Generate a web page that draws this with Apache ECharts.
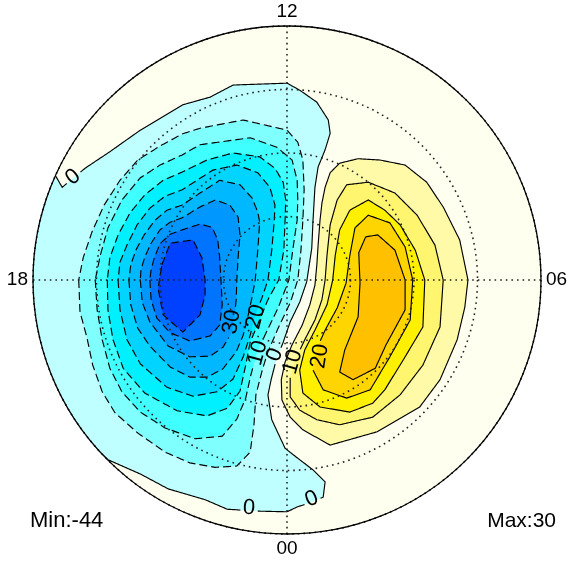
<!DOCTYPE html>
<html><head><meta charset="utf-8">
<script src="https://cdn.jsdelivr.net/npm/echarts@6/dist/echarts.min.js"></script>
<style>html,body{margin:0;padding:0;background:#fff}#c{width:569px;height:561px}</style>
</head><body><div id="c"></div>
<script>
// ---- data (x, y in degrees of colatitude from the pole; +y toward 12 MLT, +x toward 06 MLT) ----
const mltTicks = [0, 6, 12, 18];
const mltLabels = ['00', '06', '12', '18'];
const colatRings = [10, 20, 30];
const outerColat = 40;
const minValue = -44;
const maxValue = 30;

const contourZero = [[-36.5,16.5],[-35.4,14.6],[-31.8,17.6],[-27.9,20.2],[-23.1,23.6],[-16.4,27.6],[-12.1,28.8],[-8.5,30.7],[0,31.0],[2.0,29.9],[4.7,28.0],[6.5,25.2],[6.8,23.1],[6.0,20.5],[4.9,17.8],[4.4,14.6],[4.1,9.4],[3.9,5.0],[3.1,-0.3],[2.0,-3.5],[0.5,-6.6],[-0.6,-9.8],[-1.7,-12.6],[-2.5,-15.7],[-3.0,-18.1],[-2.4,-22.0],[-0.3,-26.5],[1.6,-28.0],[4.1,-29.9],[6.0,-31.8],[5.7,-34.2],[3.6,-35.1],[1.7,-35.7],[0,-36.5],[-4.6,-36.4],[-9.4,-36.1],[-12.9,-34.6],[-18.7,-32.9],[-23.0,-30.6],[-28.2,-28.3],[-31.5,-25.2],[-35.7,-28.3],[-43.6,-3.1],[-40.5,18.1]];
const contourNeg5 = [[-32.8,0],[-32.6,-5.0],[-31.5,-9.1],[-30.6,-13.4],[-29.1,-17.6],[-27.1,-20.9],[-23.5,-24.1],[-19.2,-27.1],[-15.3,-28.8],[-11.3,-29.5],[-7.9,-29.3],[-5.8,-27.1],[-5.2,-22.8],[-4.9,-18.1],[-3.9,-14.2],[-3.0,-11.3],[-1.4,-7.6],[0.5,-3.6],[1.7,0],[2.2,4.7],[2.5,9.4],[2.7,14.2],[2.5,18.9],[1.7,21.7],[0,23.6],[-6.9,25.2],[-13.7,23.9],[-16.5,23.0],[-20.0,21.1],[-23.5,18.9],[-26.3,15.7],[-28.8,11.8],[-30.7,7.6],[-32.1,3.5]];
const contourNeg10 = [[-30.2,0],[-29.9,-4.7],[-29.1,-9.4],[-27.9,-13.9],[-26.0,-17.6],[-23.1,-20.8],[-19.2,-23.3],[-14.5,-25.0],[-10.2,-24.6],[-7.9,-21.9],[-6.5,-18.6],[-5.7,-15.0],[-4.7,-11.3],[-3.1,-7.9],[-1.4,-4.4],[0.3,0],[0.9,4.7],[1.6,9.4],[1.7,12.6],[1.6,15.7],[0.8,18.9],[-1.6,20.9],[-5.8,22.4],[-13.7,21.3],[-16.5,19.7],[-20.0,18.1],[-23.1,16.1],[-26.0,12.6],[-28.2,8.2],[-29.4,3.9]];
const contourNeg15 = [[-28.3,0],[-28.2,-4.7],[-27.4,-9.4],[-25.8,-13.9],[-22.4,-17.8],[-17.3,-20.6],[-12.6,-21.4],[-9.4,-20.2],[-7.4,-17.5],[-6.5,-13.4],[-5.8,-9.8],[-4.4,-6.5],[-3.0,-3.1],[-1.3,0],[-0.5,4.7],[-0.3,9.4],[-0.2,12.6],[-0.6,15.4],[-1.9,17.6],[-4.3,19.4],[-8.5,20.0],[-12.6,18.9],[-16.5,17.0],[-19.5,15.7],[-22.4,13.4],[-24.7,10.6],[-26.6,7.1],[-27.9,3.5]];
const contourNeg20 = [[-26.6,0],[-26.3,-4.7],[-25.2,-9.4],[-23.1,-13.2],[-18.9,-16.9],[-14.8,-18.3],[-11.0,-17.6],[-8.5,-15.6],[-6.9,-12.1],[-5.8,-8.7],[-5.0,-5.5],[-3.9,-2.7],[-3.0,0],[-2.4,4.7],[-2.0,9.4],[-1.9,11.8],[-2.7,14.6],[-4.6,16.9],[-7.9,18.1],[-11.7,17.3],[-16.5,14.2],[-19.2,13.2],[-21.6,11.3],[-23.6,8.7],[-25.2,5.5],[-26.3,2.8]];
const contourNeg25 = [[-24.9,0],[-24.6,-3.9],[-23.5,-7.6],[-21.6,-10.4],[-18.4,-13.7],[-15.3,-15.3],[-12.6,-15.3],[-10.1,-14.0],[-8.0,-11.3],[-6.9,-8.7],[-6.1,-5.5],[-5.5,-2.7],[-5.0,0],[-4.6,4.7],[-4.3,9.1],[-4.6,10.7],[-5.5,12.9],[-7.4,15.0],[-10.6,15.7],[-13.7,13.7],[-16.5,11.8],[-18.9,11.0],[-20.8,9.4],[-22.5,7.1],[-23.8,4.7],[-24.6,2.4]];
const contourNeg30 = [[-23.1,0],[-22.8,-3.5],[-21.6,-6.6],[-18.7,-10.4],[-15.3,-12.1],[-12.1,-12.0],[-10.1,-10.6],[-8.7,-8.3],[-8.3,-6.0],[-8.0,-3.1],[-7.9,0],[-7.7,3.5],[-7.4,7.1],[-7.7,9.9],[-9.0,11.8],[-11.3,12.6],[-13.7,11.5],[-16.5,9.8],[-18.4,9.1],[-20.0,7.9],[-21.4,5.8],[-22.4,3.6],[-23.0,1.6]];
const contourNeg35 = [[-21.6,0],[-21.4,-3.1],[-20.5,-6.0],[-18.4,-8.3],[-15.3,-9.6],[-12.1,-8.8],[-10.6,-7.1],[-10.2,-3.9],[-10.4,0],[-10.6,3.5],[-10.9,6.3],[-11.8,8.3],[-13.7,8.8],[-16.5,7.9],[-18.4,7.2],[-20.0,5.7],[-20.9,3.5],[-21.4,1.6]];
const contourNeg40 = [[-19.7,2.4],[-18.4,5.8],[-14.8,6.3],[-13.4,3.5],[-12.9,0],[-12.9,-2.4],[-13.7,-5.5],[-16.4,-8.2],[-19.5,-5.5],[-20.3,-1.3]];
const contourPos5 = [[6.8,16.9],[8.3,18.4],[11.2,19.1],[14.6,18.9],[18.6,18.1],[22.0,15.4],[24.6,11.5],[27.2,6.3],[28.5,0],[28.0,-4.3],[26.8,-9.4],[24.1,-15.7],[20.9,-20.0],[14.2,-23.9],[6.8,-26.0],[2.5,-23.6],[0.5,-21.6],[-0.8,-18.9],[-0.9,-15.7],[-0.3,-12.9],[0.8,-10.2],[2.4,-7.1],[3.6,-3.9],[4.4,-0.8],[4.7,2.4],[4.9,5.5],[5.2,9.4],[5.5,12.1],[6.0,14.6]];
const contourPos10 = [[7.9,12.6],[9.4,15.0],[12.8,15.4],[17.0,13.7],[20.5,10.2],[23.3,5.5],[24.6,0],[24.1,-7.4],[21.4,-13.4],[17.8,-18.1],[13.5,-21.6],[8.3,-22.8],[4.7,-22.0],[2.0,-20.5],[0.5,-18.4],[0.5,-15.4],[1.3,-12.6],[2.8,-9.4],[4.4,-6.3],[5.5,-3.1],[6.0,0],[6.3,3.9],[6.8,8.7]];
const contourPos15 = [[9.9,11.0],[12.8,12.6],[15.4,11.0],[17.8,8.7],[20.2,4.7],[21.7,0],[21.4,-7.4],[18.3,-12.6],[15.4,-17.3],[13.5,-19.4],[9.9,-20.8],[5.2,-20.0],[2.5,-17.8],[2.0,-14.2],[2.8,-11.0],[4.4,-7.9],[6.3,-3.9],[7.2,0],[7.6,3.9],[8.3,7.9]];
const contourPos20 = [[10.7,8.2],[12.8,10.2],[16.2,9.0],[18.6,5.2],[19.8,0],[19.4,-6.3],[16.2,-12.1],[13.1,-17.3],[9.4,-18.6],[5.7,-17.3],[4.1,-14.2],[4.6,-11.0],[6.0,-7.9],[7.9,-4.4],[9.3,-0.5],[9.9,3.9]];
const contourPos25 = [[12.4,6.8],[14.3,7.1],[17.0,4.7],[18.6,0],[18.6,-4.7],[15.6,-10.2],[13.9,-13.9],[10.4,-15.7],[8.3,-14.5],[9.1,-11.0],[11.2,-5.8],[11.5,-0.5],[11.3,4.3]];

const contourLevels = [0, -5, -10, -15, -20, -25, -30, -35, -40, 5, 10, 15, 20, 25];
const contourLines = [contourZero, contourNeg5, contourNeg10, contourNeg15, contourNeg20, contourNeg25, contourNeg30, contourNeg35, contourNeg40, contourPos5, contourPos10, contourPos15, contourPos20, contourPos25];

const labelTexts = ['0', '0', '0', '0', '10', '20', '30', '10', '20'];
const labelLevels = [0, 0, 0, 0, -10, -20, -30, 10, 20];
const labelPoints = [[-33.7,16.2],[-6.0,-35.9],[3.9,-34.5],[-1.9,-11.8],[-4.6,-11.5],[-4.9,-5.8],[-8.7,-6.6],[0.9,-12.9],[5.2,-12.0]];

// ---- styling ----
const FONT = '"Liberation Sans", Arial, Helvetica, sans-serif';
const LABEL_SIZE = 22;
const bandFill = {
  '0': '#c0ffff', '-5': '#80ffff', '-10': '#40ffff', '-15': '#00f0ff', '-20': '#00d4ff',
  '-25': '#00b8ff', '-30': '#0098ff', '-35': '#0074ff', '-40': '#0040ff',
  '5': '#fffaa8', '10': '#fff56e', '15': '#fff000', '20': '#ffd500', '25': '#ffc000'
};
const diskFill = '#fffff0';

const shapes = [{kind: 'disk'}];
contourLevels.forEach((lv, i) => shapes.push({kind: 'fill', level: lv, pts: contourLines[i]}));
contourLevels.forEach((lv, i) => shapes.push({kind: 'stroke', level: lv, pts: contourLines[i]}));
shapes.push({kind: 'ring'});
labelTexts.forEach((t, i) => shapes.push({kind: 'label', text: t, at: labelPoints[i], ref: contourLines[contourLevels.indexOf(labelLevels[i])]}));

function segDist(p, a, b) {
  const dx = b[0] - a[0], dy = b[1] - a[1];
  const L = dx * dx + dy * dy || 1;
  let t = ((p[0] - a[0]) * dx + (p[1] - a[1]) * dy) / L;
  t = Math.max(0, Math.min(1, t));
  const x = a[0] + t * dx - p[0], y = a[1] + t * dy - p[1];
  return Math.sqrt(x * x + y * y);
}

function strokePieces(pts, gaps) {
  const pieces = [];
  let cur = [];
  const n = pts.length;
  for (let i = 0; i < n; i++) {
    const a = pts[i], b = pts[(i + 1) % n];
    const len = Math.hypot(b[0] - a[0], b[1] - a[1]);
    const steps = Math.max(1, Math.ceil(len / 1.5));
    const last = (i === n - 1) ? steps : steps - 1;
    for (let k = 0; k <= last; k++) {
      const t = k / steps;
      const q = [a[0] + (b[0] - a[0]) * t, a[1] + (b[1] - a[1]) * t];
      const inGap = gaps.some(g => Math.hypot(q[0] - g.p[0], q[1] - g.p[1]) < g.r);
      if (inGap) { if (cur.length > 1) pieces.push(cur); cur = []; }
      else cur.push(q);
    }
  }
  if (cur.length > 1) pieces.push(cur);
  return pieces;
}

function renderItem(params, api) {
  const s = shapes[params.dataIndex];
  const c = api.coord([0, 0]);
  const R = api.coord([outerColat, 0])[0] - c[0];
  if (s.kind === 'disk') {
    return {type: 'circle', shape: {cx: c[0], cy: c[1], r: R}, style: {fill: diskFill}};
  }
  if (s.kind === 'ring') {
    return {type: 'ring', shape: {cx: c[0], cy: c[1], r: R + 400, r0: R + 0.3}, style: {fill: '#ffffff'}};
  }
  if (s.kind === 'fill') {
    return {type: 'polygon', shape: {points: s.pts.map(p => api.coord(p))},
      style: {fill: bandFill[String(s.level)], stroke: null}};
  }
  if (s.kind === 'stroke') {
    const gaps = [];
    labelTexts.forEach((t, i) => {
      if (labelLevels[i] === s.level) gaps.push({p: api.coord(labelPoints[i]), r: t.length * 0.556 * LABEL_SIZE / 2 + 2.5});
    });
    const pieces = strokePieces(s.pts.map(p => api.coord(p)), gaps);
    return {type: 'group', children: pieces.map(pc => ({type: 'polyline', shape: {points: pc},
      style: {fill: null, stroke: '#000', lineWidth: 1.15, lineDash: s.level < 0 ? [8, 4] : null}}))};
  }
  // label
  const p = api.coord(s.at);
  const pts = s.ref.map(q => api.coord(q));
  let best = Infinity, ang = 0;
  for (let i = 0; i < pts.length; i++) {
    const a = pts[i], b = pts[(i + 1) % pts.length];
    const d = segDist(p, a, b);
    if (d < best) { best = d; ang = Math.atan2(-(b[1] - a[1]), b[0] - a[0]); }
  }
  while (ang > Math.PI / 2) ang -= Math.PI;
  while (ang <= -Math.PI / 2) ang += Math.PI;
  return {type: 'text', x: p[0], y: p[1], rotation: ang,
    style: {text: s.text, fill: '#000', fontSize: LABEL_SIZE, fontFamily: FONT, align: 'center', verticalAlign: 'middle'}};
}

const chart = echarts.init(document.getElementById('c'), null, {renderer: 'canvas'});
const dotted = {type: [1.6, 4], color: '#222', width: 1.6};
chart.setOption({
  animation: false,
  backgroundColor: '#ffffff',
  grid: {left: 33, top: 26, width: 508, height: 508, show: false},
  xAxis: {type: 'value', min: -outerColat, max: outerColat, show: false},
  yAxis: {type: 'value', min: -outerColat, max: outerColat, show: false},
  polar: {center: [287, 280], radius: 254},
  angleAxis: {
    type: 'value', min: 0, max: 24, interval: 6, startAngle: 270, clockwise: false, z: 10,
    axisLine: {show: true, lineStyle: {color: '#000', width: 1.3}},
    axisTick: {show: false},
    axisLabel: {show: true, margin: 5, color: '#000', fontSize: 19, fontFamily: FONT,
      formatter: v => { const i = mltTicks.indexOf(v); return i >= 0 ? mltLabels[i] : ''; }},
    splitLine: {show: true, lineStyle: dotted}
  },
  radiusAxis: {
    type: 'value', min: 0, max: outerColat, interval: colatRings[0], z: 10,
    axisLine: {show: false}, axisTick: {show: false}, axisLabel: {show: false},
    splitLine: {show: true, showMaxLine: false, lineStyle: dotted}
  },
  graphic: [
    {type: 'text', x: 30, y: 521, z: 100, style: {text: 'Min:' + minValue, fill: '#000', fontSize: 22, fontFamily: FONT, align: 'left', verticalAlign: 'middle'}},
    {type: 'text', x: 556, y: 521, z: 100, style: {text: 'Max:' + maxValue, fill: '#000', fontSize: 21, fontFamily: FONT, align: 'right', verticalAlign: 'middle'}}
  ],
  series: [{
    type: 'custom', coordinateSystem: 'cartesian2d', silent: true, clip: false, z: 2,
    renderItem: renderItem,
    data: shapes.map(() => [0, 0])
  }]
});
</script>
</body></html>
